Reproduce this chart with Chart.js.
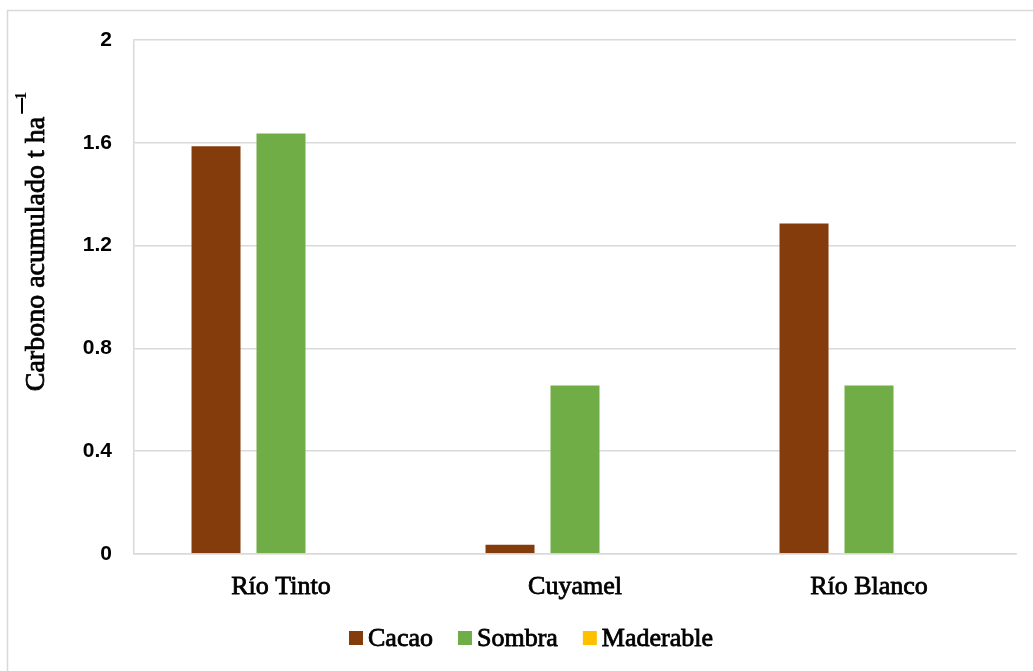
<!DOCTYPE html>
<html>
<head>
<meta charset="utf-8">
<script src="https://cdn.jsdelivr.net/npm/chart.js@4/dist/chart.umd.min.js"></script>
<style>
  html, body { margin: 0; padding: 0; background: #ffffff; }
  #wrap { position: relative; width: 1033px; height: 671px; }
</style>
</head>
<body>
<div id="wrap"><canvas id="chart" width="1033" height="671"></canvas></div>
<script>
// Sites and accumulated carbon (t ha-1) per component
const categories = ['Río Tinto', 'Cuyamel', 'Río Blanco'];
const cacao = [1.59, 0.04, 1.29];
const sombra = [1.64, 0.66, 0.66];
const maderable = [0, 0, 0];
const yTicks = [0, 0.4, 0.8, 1.2, 1.6, 2];

const serif = '"Liberation Serif", "Times New Roman", serif';
const sans = '"Liberation Sans", Arial, sans-serif';

// Thin frame along the top and left edge of the figure
const framePlugin = {
  id: 'frame',
  beforeDraw(chart) {
    const ctx = chart.ctx;
    ctx.save();
    ctx.fillStyle = '#ffffff';
    ctx.fillRect(0, 0, chart.width, chart.height);
    ctx.strokeStyle = '#d9d9d9';
    ctx.lineWidth = 1.5;
    ctx.beginPath();
    ctx.moveTo(7.5, chart.height);
    ctx.lineTo(7.5, 10.5);
    ctx.lineTo(chart.width, 10.5);
    ctx.stroke();
    ctx.restore();
  }
};

// Vertical axis title with a superscript exponent
const yTitlePlugin = {
  id: 'yTitle',
  afterDraw(chart) {
    const ctx = chart.ctx;
    const main = 'Carbono acumulado t ha';
    const sup = '1';
    ctx.save();
    ctx.font = '28px ' + serif;
    const w1 = ctx.measureText(main).width;
    const w2 = 24;
    const total = w1 + w2;
    ctx.translate(37, 242);
    ctx.rotate(-Math.PI / 2);
    ctx.fillStyle = '#000000';
    ctx.strokeStyle = '#000000';
    ctx.textBaseline = 'middle';
    ctx.textAlign = 'left';
    ctx.lineWidth = 0.8;
    const x0 = -total / 2;
    ctx.fillText(main, x0, 0);
    ctx.strokeText(main, x0, 0);
    // exponent: raised minus sign followed by a small 1
    ctx.lineWidth = 2;
    ctx.beginPath();
    ctx.moveTo(x0 + w1 + 3, -15);
    ctx.lineTo(x0 + w1 + 19, -15);
    ctx.stroke();
    ctx.font = 'bold 16px ' + serif;
    ctx.fillText(sup, x0 + w1 + 17, -15);
    ctx.restore();
  }
};

// Legend row under the category labels, built from the datasets
const legendRowPlugin = {
  id: 'legendRow',
  afterDraw(chart) {
    const ctx = chart.ctx;
    const box = 14, gap = 5, itemGap = 25, cy = 638, cx = 531;
    ctx.save();
    ctx.font = '26px ' + serif;
    ctx.textBaseline = 'middle';
    ctx.textAlign = 'left';
    const items = chart.data.datasets.map(ds => ({
      text: ds.label, color: ds.backgroundColor, w: ctx.measureText(ds.label).width
    }));
    const total = items.reduce((s, it) => s + box + gap + it.w, 0) + itemGap * (items.length - 1);
    let x = cx - total / 2;
    items.forEach(it => {
      ctx.fillStyle = it.color;
      ctx.fillRect(x, cy - box / 2, box, box);
      x += box + gap;
      ctx.fillStyle = '#000000';
      ctx.strokeStyle = '#000000';
      ctx.lineWidth = 0.8;
      ctx.fillText(it.text, x, cy + 1);
      ctx.strokeText(it.text, x, cy + 1);
      x += it.w + itemGap;
    });
    ctx.restore();
  }
};

new Chart(document.getElementById('chart'), {
  type: 'bar',
  data: {
    labels: categories,
    datasets: [
      { label: 'Cacao', data: cacao, backgroundColor: '#843C0C', borderColor: 'rgba(255,255,255,0.35)', borderWidth: 1 },
      { label: 'Sombra', data: sombra, backgroundColor: '#70AD47', borderColor: 'rgba(255,255,255,0.35)', borderWidth: 1 },
      { label: 'Maderable', data: maderable, backgroundColor: '#FFC000', borderWidth: 0 }
    ]
  },
  options: {
    responsive: false,
    animation: false,
    devicePixelRatio: 1,
    layout: { padding: { top: 40, right: 17, bottom: 0, left: 46 } },
    datasets: {
      bar: { categoryPercentage: 0.663, barPercentage: 0.785 }
    },
    scales: {
      x: {
        grid: { display: false, drawTicks: false },
        border: { display: true, color: '#d9d9d9', width: 1.5 },
        ticks: {
          padding: 18,
          color: '#000000',
          font: { family: serif, size: 26 },
          textStrokeColor: '#000000',
          textStrokeWidth: 0.8
        },
        afterFit(scale) { scale.height = 117; }
      },
      y: {
        min: 0,
        max: 2,
        afterBuildTicks(scale) { scale.ticks = yTicks.map(v => ({ value: v })); },
        grid: { color: '#d9d9d9', lineWidth: 1.5, drawTicks: false },
        border: { display: true, color: '#d9d9d9', width: 1.5 },
        ticks: {
          padding: 22,
          color: '#000000',
          font: { family: sans, size: 21, weight: 'bold' },
          callback: (v) => String(v)
        },
        afterFit(scale) { scale.width = 88; }
      }
    },
    plugins: {
      legend: { display: false },
      tooltip: { enabled: false },
      title: { display: false }
    }
  },
  plugins: [framePlugin, yTitlePlugin, legendRowPlugin]
});
</script>
</body>
</html>
